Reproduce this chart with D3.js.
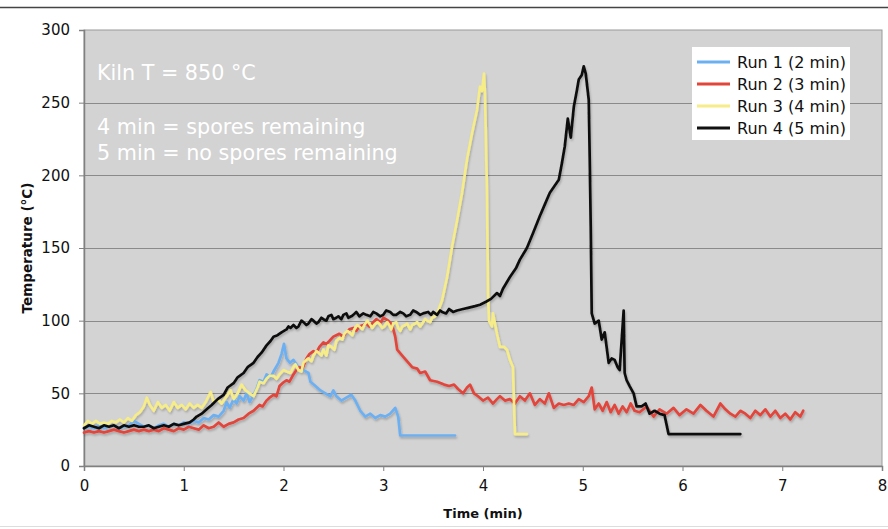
<!DOCTYPE html>
<html><head><meta charset="utf-8">
<script src="https://cdn.jsdelivr.net/npm/d3@7"></script>
<style>
body{margin:0;background:#fff;}
svg{display:block;}
text{font-family:"DejaVu Sans",Verdana,sans-serif;}
</style></head>
<body><svg id="c" width="888" height="529"></svg>
<script>
const seriesNames = ["Run 1 (2 min)","Run 2 (3 min)","Run 3 (4 min)","Run 4 (5 min)"];
const seriesColors = ["#6db0f2","#e2453a","#f6ec88","#111111"];
const xTicks = [0,1,2,3,4,5,6,7,8];
const yTicks = [0,50,100,150,200,250,300];
const notes = ["Kiln T = 850 °C","4 min = spores remaining","5 min = no spores remaining"];

const run1 = [[0,26],[0.05,27],[0.1,26],[0.15,28],[0.2,26],[0.25,27],[0.3,28],[0.35,26],[0.4,27],[0.45,28],[0.5,31],[0.55,29],[0.6,27],[0.65,28],[0.7,26],[0.75,28],[0.8,29],[0.85,27],[0.9,29],[0.95,28],[1.0,30],[1.05,29],[1.1,31],[1.15,30],[1.2,33],[1.25,32],[1.3,35],[1.35,34],[1.4,38],[1.43,44],[1.46,40],[1.5,46],[1.53,43],[1.56,48],[1.6,45],[1.63,50],[1.66,44],[1.7,49],[1.73,53],[1.76,59],[1.8,58],[1.83,63],[1.87,61],[1.9,65],[1.95,71],[1.98,77],[2.005,84],[2.03,74],[2.065,71],[2.1,73],[2.15,68],[2.2,66],[2.25,64],[2.27,58],[2.32,55],[2.37,52],[2.42,50],[2.47,48],[2.5,52],[2.53,48],[2.58,45],[2.63,47],[2.68,49],[2.72,45],[2.77,38],[2.82,34],[2.87,36],[2.92,33],[2.97,35],[3.02,34],[3.07,36],[3.12,40],[3.15,34],[3.17,21],[3.72,21]];

const run2 = [[0,23],[0.05,24],[0.1,23],[0.15,24],[0.2,23],[0.25,24],[0.3,25],[0.35,24],[0.4,23],[0.45,24],[0.5,25],[0.55,24],[0.6,25],[0.65,24],[0.7,25],[0.75,24],[0.8,26],[0.85,25],[0.9,24],[0.95,26],[1.0,25],[1.05,27],[1.1,26],[1.15,25],[1.2,28],[1.25,26],[1.3,27],[1.35,30],[1.4,27],[1.45,29],[1.5,30],[1.55,32],[1.6,33],[1.65,36],[1.7,38],[1.76,42],[1.79,41],[1.83,45],[1.86,47],[1.9,49],[1.93,48],[1.96,55],[1.99,57],[2.03,59],[2.06,58],[2.1,63],[2.13,66],[2.16,68],[2.19,67],[2.23,74],[2.26,77],[2.3,79],[2.33,78],[2.36,82],[2.4,85],[2.43,84],[2.46,86],[2.5,89],[2.53,90],[2.56,91],[2.6,89],[2.63,92],[2.66,94],[2.7,95],[2.73,93],[2.76,96],[2.8,97],[2.83,98],[2.86,96],[2.9,99],[2.93,101],[2.95,100],[2.98,99],[3.0,102],[3.05,100],[3.09,97],[3.12,89],[3.14,80],[3.19,76],[3.24,72],[3.29,68],[3.34,67],[3.37,64],[3.42,65],[3.47,59],[3.54,58],[3.61,56],[3.66,55],[3.71,56],[3.75,53],[3.8,50],[3.84,54],[3.87,56],[3.91,50],[3.95,48],[4.0,45],[4.05,47],[4.1,43],[4.14,46],[4.17,48],[4.22,45],[4.27,46],[4.32,43],[4.37,48],[4.42,45],[4.47,50],[4.52,42],[4.57,46],[4.62,43],[4.66,50],[4.71,40],[4.76,43],[4.81,42],[4.86,43],[4.91,42],[4.96,46],[5.01,44],[5.06,48],[5.09,54],[5.12,39],[5.16,43],[5.2,38],[5.24,44],[5.28,37],[5.32,42],[5.36,36],[5.4,41],[5.44,37],[5.48,43],[5.52,38],[5.57,37],[5.64,41],[5.71,34],[5.77,39],[5.84,36],[5.91,40],[5.97,35],[6.04,39],[6.11,36],[6.18,42],[6.24,38],[6.31,34],[6.38,43],[6.43,39],[6.48,36],[6.53,34],[6.58,38],[6.63,36],[6.68,33],[6.73,38],[6.78,35],[6.83,39],[6.88,34],[6.93,38],[6.98,33],[7.03,36],[7.08,32],[7.13,37],[7.18,34],[7.21,38]];

const run3 = [[0,28],[0.04,31],[0.08,29],[0.12,31],[0.16,29],[0.2,30],[0.24,29],[0.28,31],[0.32,30],[0.36,32],[0.4,30],[0.44,33],[0.48,31],[0.52,35],[0.56,37],[0.6,41],[0.63,47],[0.66,42],[0.7,38],[0.74,44],[0.78,40],[0.82,42],[0.86,38],[0.9,44],[0.94,40],[0.98,42],[1.02,39],[1.06,43],[1.1,40],[1.14,42],[1.18,40],[1.22,44],[1.27,51],[1.3,44],[1.34,46],[1.38,43],[1.42,47],[1.47,52],[1.5,46],[1.54,50],[1.58,56],[1.62,52],[1.66,50],[1.7,48],[1.74,54],[1.76,58],[1.8,57],[1.83,60],[1.86,62],[1.9,62],[1.93,60],[1.96,63],[2.0,66],[2.03,65],[2.07,64],[2.1,68],[2.12,70],[2.15,66],[2.18,65],[2.2,71],[2.23,73],[2.25,74],[2.28,72],[2.3,76],[2.33,79],[2.35,78],[2.38,76],[2.4,80],[2.43,76],[2.45,83],[2.48,82],[2.51,80],[2.53,86],[2.56,88],[2.59,87],[2.61,91],[2.64,93],[2.66,92],[2.69,90],[2.71,94],[2.74,97],[2.76,96],[2.79,94],[2.81,97],[2.84,100],[2.86,98],[2.89,95],[2.91,97],[2.94,99],[2.96,98],[2.99,95],[3.01,96],[3.04,99],[3.06,97],[3.08,94],[3.1,98],[3.13,99],[3.15,95],[3.17,93],[3.19,96],[3.22,97],[3.24,98],[3.27,94],[3.29,97],[3.32,98],[3.34,99],[3.37,96],[3.39,98],[3.42,101],[3.44,100],[3.47,99],[3.49,102],[3.52,103],[3.54,105],[3.59,114],[3.64,130],[3.69,151],[3.74,169],[3.79,188],[3.84,211],[3.89,229],[3.94,245],[3.97,261],[3.99,258],[4.01,270],[4.02,256],[4.04,188],[4.05,119],[4.06,100],[4.09,96],[4.1,105],[4.12,98],[4.14,91],[4.17,82],[4.21,82],[4.24,80],[4.27,73],[4.3,68],[4.32,22],[4.44,22]];

const run4 = [[0,26],[0.05,28],[0.1,27],[0.15,26],[0.2,28],[0.25,27],[0.3,28],[0.35,26],[0.4,28],[0.45,27],[0.5,28],[0.55,27],[0.6,27],[0.65,28],[0.7,26],[0.75,27],[0.8,28],[0.85,27],[0.9,29],[0.95,28],[1.0,29],[1.06,30],[1.1,32],[1.13,34],[1.18,36],[1.23,39],[1.28,42],[1.34,46],[1.4,49],[1.44,54],[1.5,57],[1.54,61],[1.6,64],[1.64,68],[1.7,71],[1.74,75],[1.78,78],[1.83,83],[1.87,86],[1.9,89],[1.94,90],[1.98,92],[2.03,94],[2.05,96],[2.07,95],[2.1,97],[2.13,95],[2.15,96],[2.18,100],[2.2,99],[2.23,97],[2.25,98],[2.28,101],[2.3,100],[2.33,98],[2.35,99],[2.38,102],[2.4,101],[2.43,100],[2.45,103],[2.48,104],[2.5,101],[2.53,102],[2.55,103],[2.58,101],[2.6,104],[2.63,105],[2.65,102],[2.68,103],[2.7,104],[2.73,106],[2.76,103],[2.8,105],[2.83,104],[2.87,103],[2.9,106],[2.93,105],[2.97,103],[3.0,104],[3.03,107],[3.07,106],[3.1,104],[3.13,104],[3.17,106],[3.2,105],[3.23,103],[3.27,104],[3.3,107],[3.33,106],[3.37,104],[3.4,105],[3.45,106],[3.48,104],[3.5,106],[3.54,104],[3.57,107],[3.59,106],[3.63,105],[3.66,108],[3.7,106],[3.74,107],[3.8,108],[3.86,109],[3.92,110],[3.97,111],[4.03,113],[4.08,115],[4.14,119],[4.17,117],[4.2,122],[4.27,130],[4.33,136],[4.37,142],[4.44,150],[4.47,155],[4.5,160],[4.57,172],[4.62,180],[4.67,188],[4.72,193],[4.76,197],[4.79,208],[4.82,220],[4.85,239],[4.88,226],[4.91,247],[4.94,258],[4.96,266],[4.99,269],[5.01,275],[5.03,270],[5.06,252],[5.07,211],[5.08,165],[5.09,105],[5.12,98],[5.16,100],[5.19,87],[5.22,92],[5.26,71],[5.29,74],[5.32,73],[5.35,68],[5.37,66],[5.41,107],[5.42,64],[5.44,59],[5.47,55],[5.51,50],[5.54,41],[5.59,41],[5.63,43],[5.67,36],[5.72,38],[5.77,36],[5.82,35],[5.86,22],[6.58,22]];

const runs = [run1, run2, run3, run4];

const svg = d3.select("#c");
const L = 84, R = 882, T = 30, B = 466;
const x = d3.scaleLinear().domain([0,8]).range([L,R]);
const y = d3.scaleLinear().domain([0,300]).range([B,T]);

const defs = svg.append("defs");
defs.append("filter").attr("id","sh").attr("x","-5%").attr("y","-5%").attr("width","110%").attr("height","115%")
  .append("feDropShadow").attr("dx",1).attr("dy",2).attr("stdDeviation",1.2)
  .attr("flood-color","#000").attr("flood-opacity",0.22);

// top rule
svg.append("line").attr("x1",0).attr("x2",888).attr("y1",7.5).attr("y2",7.5)
  .attr("stroke","#444").attr("stroke-width",1.5);
// bottom faint rule
svg.append("line").attr("x1",0).attr("x2",888).attr("y1",526.5).attr("y2",526.5)
  .attr("stroke","#ddd").attr("stroke-width",1);

// plot area
svg.append("rect").attr("x",L).attr("y",T).attr("width",R-L).attr("height",B-T)
  .attr("fill","#d3d3d3").attr("stroke","#9a9a9a").attr("stroke-width",1);

// gridlines
svg.append("g").selectAll("line").data(yTicks.filter(v=>v>0&&v<300)).join("line")
  .attr("x1",L).attr("x2",R).attr("y1",d=>Math.round(y(d))+0.5).attr("y2",d=>Math.round(y(d))+0.5)
  .attr("stroke","#8a8a8a").attr("stroke-width",1);

// axes
const ax = svg.append("g").attr("transform",`translate(0,${B})`)
  .call(d3.axisBottom(x).tickValues(xTicks).tickSize(5).tickPadding(9).tickFormat(d3.format("d")));
const ay = svg.append("g").attr("transform",`translate(${L},0)`)
  .call(d3.axisLeft(y).tickValues(yTicks).tickSize(5).tickPadding(9).tickFormat(d3.format("d")));
[ax,ay].forEach(g=>{
  g.select(".domain").attr("stroke","#808080").attr("stroke-width",1.5);
  g.selectAll(".tick line").attr("stroke","#808080");
  g.selectAll(".tick text").attr("fill","#111").style("font-size","15px")
    .style("font-family",'"DejaVu Sans",Verdana,sans-serif');
});

// axis titles
svg.append("text").attr("x",483).attr("y",518).attr("text-anchor","middle")
  .style("font-size","13px").style("font-weight","bold").attr("fill","#111").text("Time (min)");
svg.append("text").attr("transform","translate(32,248) rotate(-90)").attr("text-anchor","middle")
  .style("font-size","13.5px").style("font-weight","bold").attr("fill","#111").text("Temperature (°C)");

// lines
const line = d3.line().x(d=>x(d[0])).y(d=>y(d[1]));
const lg = svg.append("g").attr("filter","url(#sh)");
runs.forEach((r,i)=>{
  lg.append("path").datum(r).attr("d",line).attr("fill","none")
    .attr("stroke",seriesColors[i]).attr("stroke-width",2.7)
    .attr("stroke-linejoin","round").attr("stroke-linecap","round");
});

// annotations
const noteY = [80,134,160];
svg.append("g").selectAll("text").data(notes).join("text")
  .attr("x",97).attr("y",(d,i)=>noteY[i]).attr("fill","#ffffff")
  .style("font-size","20.7px").text(d=>d);

// legend
const leg = svg.append("g");
leg.append("rect").attr("x",692).attr("y",47).attr("width",158).attr("height",93).attr("fill","#fff");
seriesNames.forEach((n,i)=>{
  const cy = 62 + i*22;
  leg.append("line").attr("x1",697).attr("x2",730).attr("y1",cy).attr("y2",cy)
    .attr("stroke",seriesColors[i]).attr("stroke-width",3);
  leg.append("text").attr("x",737).attr("y",cy+5.5).style("font-size","16px").attr("fill","#111").text(n);
});
</script></body></html>
